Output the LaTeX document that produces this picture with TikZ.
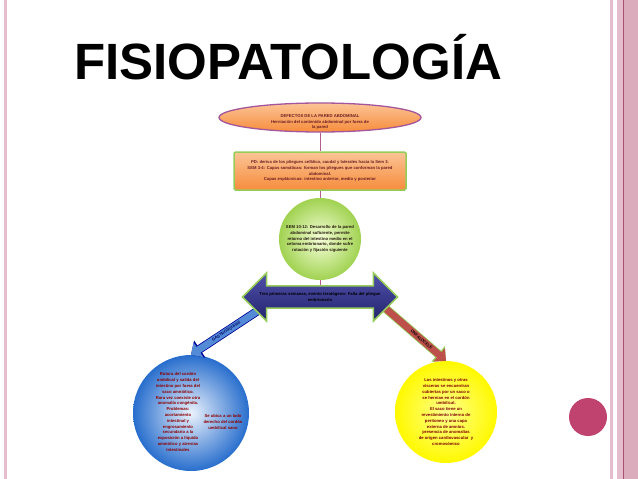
\documentclass[tikz,border=0pt]{standalone}
\usepackage{fontspec}
\setmainfont{Liberation Sans}
\usepackage{xcolor}
\usetikzlibrary{shapes.geometric, shapes.arrows, arrows.meta}

\definecolor{edgepink}{RGB}{228,190,204}
\definecolor{bandpink}{RGB}{218,172,188}
\definecolor{darkpink}{RGB}{170,80,110}
\definecolor{dotpink}{RGB}{192,66,110}
\definecolor{linkpink}{RGB}{180,90,150}
\definecolor{elpborder}{RGB}{165,85,155}
\definecolor{orangetop}{RGB}{252,196,150}
\definecolor{orangebot}{RGB}{246,140,60}
\definecolor{leafgreen}{RGB}{150,205,90}
\definecolor{navy}{RGB}{35,35,110}
\definecolor{navylight}{RGB}{80,80,170}
\definecolor{maroon}{RGB}{110,30,35}
\definecolor{bluedark}{RGB}{40,110,205}
\definecolor{bluelight}{RGB}{235,242,252}
\definecolor{redarrow}{RGB}{190,80,75}

\newcommand{\diagfont}{\fontsize{4.2}{5.8}\selectfont\bfseries}

\begin{document}
\begin{tikzpicture}
  [x=1pt, y=-1pt,
   txt/.style={font=\diagfont, align=center, inner sep=0pt},
   link/.style={draw=linkpink, line width=.8},
   garrow/.style={draw=bluedark!80!white, line width=7, -{Triangle[length=9pt, width=17pt]},
     preaction={draw=blue!60!black, line width=8.6, -{Triangle[length=10.5pt, width=20pt]}}},
   oarrow/.style={draw=redarrow, line width=7, -{Triangle[length=9pt, width=17pt]},
     preaction={draw=leafgreen, line width=8.6, -{Triangle[length=10.5pt, width=20pt]}}},
   arlbl/.style={font=\fontsize{4}{4.5}\selectfont\bfseries, inner sep=0pt}]
  \useasboundingbox (0,0) rectangle (638,479);
  \fill[white] (0,0) rectangle (638,479);

  % frame %
  \fill[edgepink] (4,0) rectangle (7,479);
  \fill[edgepink] (610,0) rectangle (613,479);
  \fill[edgepink] (617,0) rectangle (622.5,479);
  \fill[bandpink] (624,0) rectangle (638,479);
  \fill[darkpink] (622.5,0) rectangle (624,479);

  % nodes %
  \node[font=\fontsize{51}{51}\selectfont\bfseries, anchor=base west, inner sep=0pt] (title) at (74,79) {FISIOPATOLOGÍA};
  \node[circle, fill=dotpink, minimum size=38, inner sep=0pt] (dot) at (588,417) {};

  \node[ellipse, draw=elpborder, line width=1.3, top color=orangetop, bottom color=orangebot,
        minimum width=202, minimum height=29, inner sep=0pt] (elp) at (320,117.5) {};
  \node[txt, text=maroon] (elptxt) at (320,122) {DEFECTOS DE LA PARED ABDOMINAL\\
        Herniación del contenido abdominal por fuera de\\la pared};

  \node[txt, draw=leafgreen, line width=1.5, rounded corners=1.5, top color=orangetop, bottom color=orangebot,
        minimum width=172, minimum height=38, text=maroon] (wall) at (320,171)
        {PD: deriva de los pliegues cefálico, caudal y laterales hacia la Sem 3.\\
         SEM 3-4: Capas somáticas: forman los pliegues que conforman la pared\\
         abdominal.\\
         Capas esplácnicas: intestino anterior, medio y posterior};

  \node[txt, circle, minimum size=82, shading=radial, inner color=green!25!yellow!15!white,
        outer color=leafgreen!90!yellow, text=black!80!brown] (sem) at (320,239)
        {SEM 10-12: Desarrollo de la pared\\abdominal suficiente, permite\\
         retorno del intestino medio en el\\celoma embrionario, donde sufre\\
         rotación y fijación siguiente};

  \node[circle, minimum size=116, inner sep=0pt, shading=radial, inner color=bluelight,
        outer color=bluedark] (gas) at (191,413) {};
  \node[txt, text=red!55!black] (gastxt) at (178,412)
        {Rotura del cordón\\umbilical y salida del\\intestino por fuera del\\saco amniótico.\\
         Rara vez coexiste otra\\anomalía congénita.\\Problemas:\\acortamiento\\intestinal y\\
         engrosamiento\\secundario a la\\exposición a líquido\\amniótico y atresias\\intestinales};
  \node[txt, text=red!55!black] (gasside) at (223,422)
        {Se ubica a un lado\\derecho del cordón\\umbilical sano};

  \node[txt, circle, minimum size=102, shading=radial, inner color=yellow!45!white,
        outer color=yellow!95!orange, text=red!50!black] (onf) at (446,412)
        {Los intestinos y otras\\vísceras se encuentran\\cubiertas por un saco o\\
         se hernian en el cordón\\umbilical.\\El saco tiene un\\revestimiento interno de\\
         peritoneo y una capa\\externa de amnios.\\presencia de anomalías\\
         de origen cardiovascular\ \ y\\cromosómico};

  \coordinate (gtail) at (262,308);
  \coordinate (otail) at (385,308);

  % edges %
  \draw[garrow] (gtail) -- node[arlbl, sloped, text=blue!40!black] {GASTROSQUISIS} (gas.north);
  \draw[oarrow] (otail) -- node[arlbl, sloped, pos=.6, text=black] {ONFALOCELE} (onf.north);

  \node[txt, double arrow, double arrow head extend=13pt, minimum height=155, inner ysep=6pt,
        draw=leafgreen, line width=1.5, top color=navylight, bottom color=navy,
        text=black] (dbl) at (320,297)
        {Tres primeras semanas, evento teratógeno: Falla del pliegue\\embrionario};

  \draw[link] (elp) -- (wall);
  \draw[link] (wall) -- (sem);
  \draw[link] (sem) -- (dbl);
\end{tikzpicture}
\end{document}
